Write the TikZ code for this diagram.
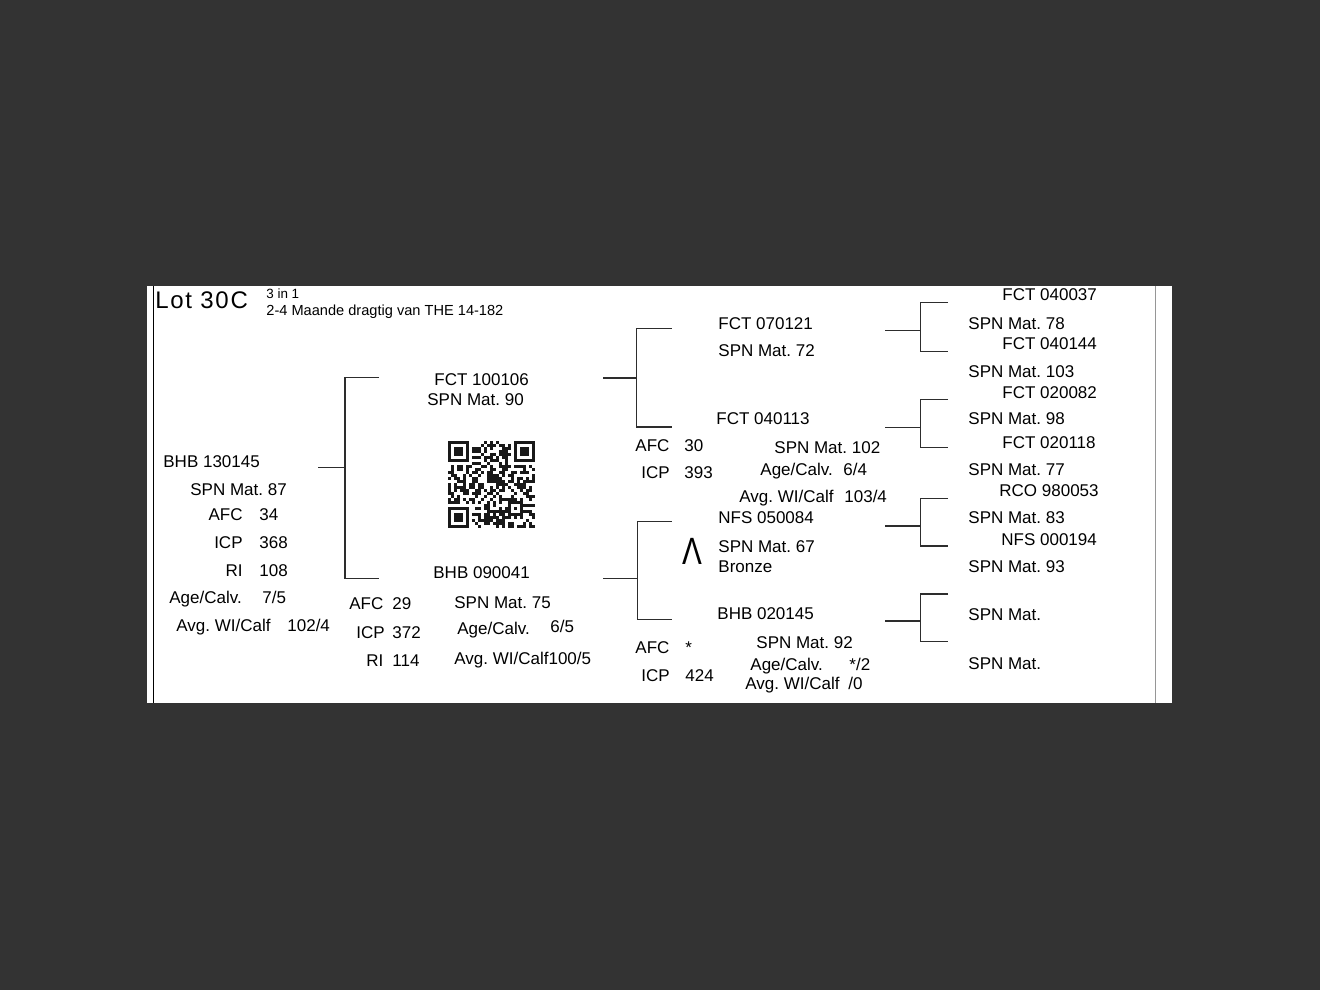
\documentclass[tikz,border=0pt]{standalone}
\usepackage{fontspec}
\setmainfont{Liberation Sans}
\definecolor{desk}{RGB}{51,51,51}
\definecolor{rule}{RGB}{45,45,45}
\definecolor{edge}{RGB}{150,150,150}
\definecolor{qr}{RGB}{25,25,25}
\tikzset{
  lbl/.style={anchor=base west, inner sep=0pt, font=\fontsize{8.5}{10}\selectfont},
  lblr/.style={lbl, anchor=base east},
  link/.style={draw=rule, line width=0.6pt},
}

\begin{document}
\frenchspacing
\begin{tikzpicture}[x=0.5pt, y=-0.5pt]

  %% desk and card
  \fill[desk] (0,0) rectangle (1320,990);
  \fill[white] (147,286) rectangle (1172,703);
  \draw[line width=0.8pt, black] (153.5,286) -- (153.5,703);
  \draw[line width=0.5pt, edge] (1155.5,286) -- (1155.5,703);

  %% header
  \node[lbl, font=\fontsize{12}{13}\selectfont\addfontfeatures{LetterSpace=7}] (lot) at (155,308) {Lot 30C};
  \node[lbl, font=\fontsize{6.7}{7}\selectfont] (tag) at (266,298) {3 in 1};
  \node[lbl, font=\fontsize{7.3}{8}\selectfont] (note) at (266,315) {2-4 Maande dragtig van THE 14-182};

  %% brackets: name / from x / bar x / stub x / mid y / top y / bottom y
  \foreach \n/\xa/\xb/\xc/\ym/\yt/\yb in {
      cow/318/345/379/467.5/377.5/578.5,
      sire/603/636.5/671.5/378/328.5/427,
      dam/603/637.5/671.5/578.5/521.5/619.5,
      ss/885/920.5/948/330.5/302.5/351.5,
      sd/885/920.5/948/427.5/399.5/447.5,
      ds/885/920.5/948/526/498.5/546,
      dd/885/920.5/948/621/594/641.5} {
    \coordinate (\n-in) at (\xa,\ym);
    \coordinate (\n-up) at (\xc,\yt);
    \coordinate (\n-dn) at (\xc,\yb);
    \draw[link] (\n-in) -- (\xb,\ym);
    \draw[link] (\n-up) -| (\xb,\ym) |- (\n-dn);
  }

  %% the cow
  \node[lbl] (cow) at (163,467) {BHB 130145};
  \node[lbl] (cow-spn) at (190,495) {SPN Mat. 87};
  \foreach \k/\t/\v/\y in {afc/AFC/34/520, icp/ICP/368/548, ri/RI/108/576} {
    \node[lblr] (cow-\k) at (243,\y) {\t};
    \node[lbl] (cow-\k-v) at (259,\y) {\v};
  }
  \node[lbl] (cow-age) at (169,603) {Age/Calv.};
  \node[lbl] (cow-age-v) at (262,603) {7/5};
  \node[lbl] (cow-wt) at (176,631) {Avg. WI/Calf};
  \node[lbl] (cow-wt-v) at (287,631) {102/4};

  %% sire and dam
  \node[lbl] (sire) at (434,385) {FCT 100106};
  \node[lbl] (sire-spn) at (427,405) {SPN Mat. 90};

  \node[lbl] (dam) at (433,578) {BHB 090041};
  \node[lbl] (dam-spn) at (454,608) {SPN Mat. 75};
  \foreach \k/\t/\x/\v/\y in {afc/AFC/349/29/609, icp/ICP/356/372/638, ri/RI/366/114/666} {
    \node[lbl] (dam-\k) at (\x,\y) {\t};
    \node[lbl] (dam-\k-v) at (392,\y) {\v};
  }
  \node[lbl] (dam-age) at (457,634) {Age/Calv.};
  \node[lbl] (dam-age-v) at (550,632) {6/5};
  \node[lbl] (dam-wt) at (454,664) {Avg. WI/Calf100/5};

  %% qr code
  \begin{scope}[shift={(447.5,440.5)}, x=1.5pt, y=-1.5pt]
    \pgfmathsetseed{7}
    \foreach \i in {0,...,28} {
      \foreach \j in {0,...,28} {
        \pgfmathtruncatemacro\inpat{(\i<8 && \j<8) || (\i>20 && \j<8) || (\i<8 && \j>20) || (\i>19 && \i<25 && \j>19 && \j<25)}
        \pgfmathtruncatemacro\qrbit{rnd<0.48}
        \ifnum\inpat=0 \ifnum\qrbit=1 \fill[qr] (\i,\j) rectangle ++(1,1); \fi\fi
      }
    }
    \foreach \cx/\cy in {0/0, 22/0, 0/22} {
      \fill[qr] (\cx,\cy) rectangle ++(7,7);
      \fill[white] (\cx+1,\cy+1) rectangle ++(5,5);
      \fill[qr] (\cx+2,\cy+2) rectangle ++(3,3);
    }
    \fill[qr] (20,20) rectangle ++(5,5);
    \fill[white] (21,21) rectangle ++(3,3);
    \fill[qr] (22,22) rectangle ++(1,1);
  \end{scope}

  %% grandparents
  \node[lbl] (ss) at (718,329) {FCT 070121};
  \node[lbl] (ss-spn) at (718,356) {SPN Mat. 72};

  \node[lbl] (sd) at (716,424) {FCT 040113};
  \node[lbl] (sd-afc) at (635,451) {AFC};
  \node[lbl] (sd-afc-v) at (684,451) {30};
  \node[lbl] (sd-icp) at (641,478) {ICP};
  \node[lbl] (sd-icp-v) at (684,478) {393};
  \node[lbl] (sd-spn) at (774,453) {SPN Mat. 102};
  \node[lbl] (sd-age) at (760,475) {Age/Calv.};
  \node[lbl] (sd-age-v) at (843,475) {6/4};
  \node[lbl] (sd-wt) at (739,502) {Avg. WI/Calf};
  \node[lbl] (sd-wt-v) at (844,502) {103/4};

  \node[lbl] (ds) at (718,523) {NFS 050084};
  \node[lbl, font=\fontsize{19}{20}\selectfont] (ds-mark) at (682,564) {\scalebox{0.78}[1]{Λ}};
  \node[lbl] (ds-spn) at (718,552) {SPN Mat. 67};
  \node[lbl] (ds-grade) at (718,572) {Bronze};

  \node[lbl] (dd) at (717,619) {BHB 020145};
  \node[lbl] (dd-afc) at (635,653) {AFC};
  \node[lbl] (dd-afc-v) at (685,653) {*};
  \node[lbl] (dd-icp) at (641,681) {ICP};
  \node[lbl] (dd-icp-v) at (685,681) {424};
  \node[lbl] (dd-spn) at (756,648) {SPN Mat. 92};
  \node[lbl] (dd-age) at (750,670) {Age/Calv.};
  \node[lbl] (dd-age-v) at (849,670) {*/2};
  \node[lbl] (dd-wt) at (745,689) {Avg. WI/Calf};
  \node[lbl] (dd-wt-v) at (848,689) {/0};

  %% great-grandparents
  \foreach \n/\x/\y/\t in {
      g1/1002/300/FCT 040037, g2/968/329/SPN Mat. 78,
      g3/1002/349/FCT 040144, g4/968/377/SPN Mat. 103,
      g5/1002/398/FCT 020082, g6/968/424/SPN Mat. 98,
      g7/1002/448/FCT 020118, g8/968/475/SPN Mat. 77,
      g9/999/496/RCO 980053, g10/968/523/SPN Mat. 83,
      g11/1001/545/NFS 000194, g12/968/572/SPN Mat. 93,
      g13/968/620/SPN Mat., g14/968/669/SPN Mat.} {
    \node[lbl] (\n) at (\x,\y) {\t};
  }
\end{tikzpicture}
\end{document}
